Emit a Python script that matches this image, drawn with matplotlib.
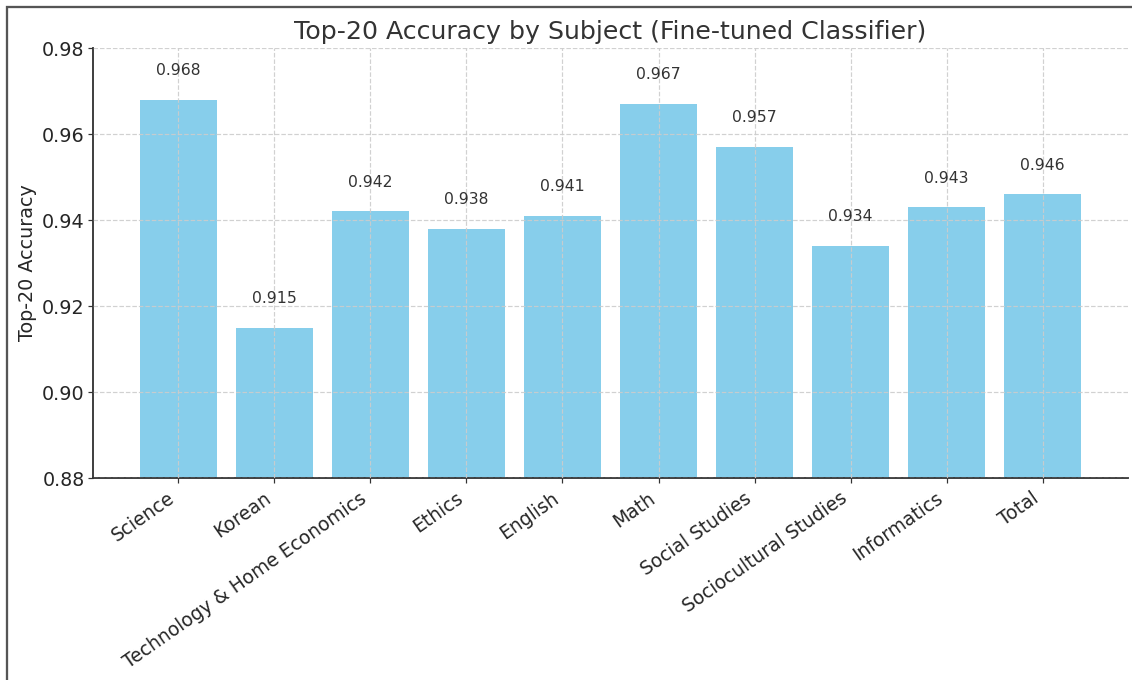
import matplotlib
matplotlib.use("Agg")
import matplotlib.pyplot as plt
from matplotlib.patches import Rectangle

subjects = ["Science", "Korean", "Technology & Home Economics", "Ethics", "English",
            "Math", "Social Studies", "Sociocultural Studies", "Informatics", "Total"]
top20_accuracy = [0.968, 0.915, 0.942, 0.938, 0.941, 0.967, 0.957, 0.934, 0.943, 0.946]
y_ticks = [0.88, 0.90, 0.92, 0.94, 0.96, 0.98]

W, H, DPI = 1132, 680, 110
fig = plt.figure(figsize=(W / DPI, H / DPI), dpi=DPI)
ax = fig.add_axes([93 / W, 1 - 478 / H, (1128 - 93) / W, (478 - 48) / H])

text_color = "#333333"
x = list(range(len(subjects)))
ax.bar(x, top20_accuracy, width=0.8, color="skyblue", zorder=1)

for xi, v in zip(x, top20_accuracy):
    ax.text(xi, v + 0.005, f"{v:.3f}", ha="center", va="bottom",
            fontsize=10.2, color=text_color)

ax.set_ylim(0.88, 0.98)
ax.set_yticks(y_ticks)
ax.set_yticklabels([f"{t:.2f}" for t in y_ticks])
ax.set_xticks(x)
ax.set_xticklabels(subjects, rotation=35, ha="right")
ax.tick_params(axis="both", colors="#333333", labelcolor="#262626")
ax.tick_params(axis="y", labelsize=12.5, pad=2)
ax.tick_params(axis="x", labelsize=12.2)

ax.set_ylabel("Top-20 Accuracy", fontsize=12.5, color="#262626", labelpad=3)
ax.set_title("Top-20 Accuracy by Subject (Fine-tuned Classifier)",
             fontsize=16.5, color=text_color, pad=6)

ax.grid(True, linestyle="--", color="#cccccc", linewidth=0.8, alpha=0.9, zorder=2)
ax.set_axisbelow(False)
for side in ("top", "right"):
    ax.spines[side].set_visible(False)
for side in ("left", "bottom"):
    ax.spines[side].set_color("#333333")
    ax.spines[side].set_linewidth(1.2)

# outer frame around the figure
fig.patches.append(Rectangle((7 / W, -0.5), 2.0, (1 - 7 / H) + 0.5,
                             transform=fig.transFigure, fill=False,
                             edgecolor="#555555", linewidth=1.5))

fig.savefig("out.png", dpi=DPI)
